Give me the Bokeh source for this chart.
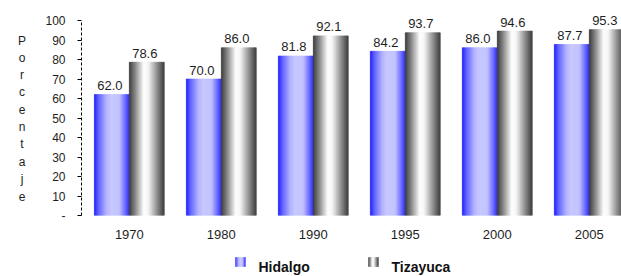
from bokeh.plotting import figure
from bokeh.models import FixedTicker, Range1d, ColumnDataSource
from bokeh.layouts import column, row
from bokeh.embed import file_html
from bokeh.resources import INLINE
from bokeh.core.properties import value

# ---- data ----
years = ["1970", "1980", "1990", "1995", "2000", "2005"]
hidalgo = [62.0, 70.0, 81.8, 84.2, 86.0, 87.7]
tizayuca = [78.6, 86.0, 92.1, 93.7, 94.6, 95.3]
series = ["Hidalgo", "Tizayuca"]
y_ticks = [0, 10, 20, 30, 40, 50, 60, 70, 80, 90, 100]
y_tick_labels = ["-", "10", "20", "30", "40", "50", "60", "70", "80", "90", "100"]
axis_title = "Porcentaje"

FONT = "Liberation Sans"
TXT = "#1e1e1e"
BAR_W = 0.38
N_STRIPES = 36

HID_STOPS = [(0.0, (20, 20, 255)), (0.12, (90, 90, 255)), (0.35, (180, 180, 255)),
             (0.5, (200, 200, 255)), (0.72, (192, 192, 255)), (0.88, (110, 110, 255)),
             (1.0, (40, 40, 255))]
TIZ_STOPS = [(0.0, (50, 50, 50)), (0.15, (120, 120, 120)), (0.42, (255, 255, 255)),
             (0.55, (245, 245, 245)), (0.8, (140, 140, 140)), (1.0, (55, 55, 55))]


def grad(stops, t):
    for (t0, c0), (t1, c1) in zip(stops[:-1], stops[1:]):
        if t0 <= t <= t1:
            f = (t - t0) / (t1 - t0)
            c = [round(a + (b - a) * f) for a, b in zip(c0, c1)]
            return "#%02x%02x%02x" % tuple(c)
    return "#%02x%02x%02x" % stops[-1][1]


def stripe_source(values, offset, stops):
    xs, tops, cols = [], [], []
    for i, v in enumerate(values):
        for k in range(N_STRIPES):
            t = (k + 0.5) / N_STRIPES
            xs.append(i + offset + t * BAR_W)
            tops.append(v)
            cols.append(grad(stops, t))
    return ColumnDataSource(dict(x=xs, top=tops, color=cols))


LEFT_W = 35
FRAME_L = 81

# ---- left strip with stacked axis title ----
tf = figure(width=LEFT_W, height=276, x_range=Range1d(0, LEFT_W), y_range=Range1d(276, 0),
            output_backend="svg", toolbar_location=None, min_border=0,
            x_axis_type=None, y_axis_type=None)
tf.outline_line_color = None
tf.grid.visible = False
tf.text(x=[21.5] * len(axis_title), y=[40 + 17.3 * k for k in range(len(axis_title))],
        text=list(axis_title), text_font=value(FONT), text_font_size="12px", text_color=TXT,
        text_align="center", text_baseline="middle")

# ---- main chart ----
p = figure(width=621 - LEFT_W, height=247, x_range=Range1d(-0.52, 5.35), y_range=Range1d(0, 110.26),
           output_backend="svg", toolbar_location=None,
           min_border_left=FRAME_L - LEFT_W, min_border_right=0, min_border_top=0, min_border_bottom=32)
p.outline_line_color = None
p.grid.visible = False

for vals, off, stops in [(hidalgo, -BAR_W, HID_STOPS), (tizayuca, 0.0, TIZ_STOPS)]:
    src = stripe_source(vals, off, stops)
    p.vbar(x="x", top="top", bottom=0, width=BAR_W / N_STRIPES, source=src,
           fill_color="color", line_color="color", line_width=0.6)

for vals, off in [(hidalgo, -BAR_W / 2), (tizayuca, BAR_W / 2)]:
    p.text(x=[i + off for i in range(len(vals))], y=vals, text=[f"{v:.1f}" for v in vals],
           text_font=value(FONT), text_font_size="13px", text_color=TXT,
           text_align="center", text_baseline="alphabetic", x_offset=-2, y_offset=-9)

p.xaxis.ticker = FixedTicker(ticks=list(range(len(years))))
p.xaxis.major_label_overrides = {i: y for i, y in enumerate(years)}
p.xaxis.axis_line_color = None
p.xaxis.major_tick_line_color = None
p.xaxis.minor_tick_line_color = None
p.xaxis.major_tick_out = 0
p.xaxis.major_tick_in = 0
p.xaxis.major_label_standoff = 14
p.xaxis.major_label_text_font = FONT
p.xaxis.major_label_text_font_size = "13px"
p.xaxis.major_label_text_color = TXT

p.yaxis.ticker = FixedTicker(ticks=y_ticks)
p.yaxis.major_label_overrides = {t: l for t, l in zip(y_ticks, y_tick_labels)}
p.yaxis.bounds = (0, 100)
p.yaxis.axis_line_dash = "3 2"
p.yaxis.axis_line_color = "black"
p.yaxis.major_tick_out = 4
p.yaxis.major_tick_in = 0
p.yaxis.major_tick_line_color = "black"
p.yaxis.minor_tick_line_color = None
p.yaxis.major_label_standoff = 12
p.yaxis.major_label_text_font = FONT
p.yaxis.major_label_text_font_size = "12px"
p.yaxis.major_label_text_color = TXT

# ---- legend strip (its frame is aligned with the main frame by the column) ----
lg = figure(width=621 - LEFT_W, height=29, x_range=Range1d(FRAME_L, 621), y_range=Range1d(29, 0),
            output_backend="svg", toolbar_location=None, min_border=0,
            min_border_left=FRAME_L - LEFT_W,
            x_axis_type=None, y_axis_type=None)
lg.outline_line_color = None
lg.grid.visible = False
icon_x = [235, 368]
text_x = [258, 391]
NI = 10
for ix, stops in zip(icon_x, [HID_STOPS, TIZ_STOPS]):
    lefts = [ix + k * 10 / NI for k in range(NI)]
    rights = [ix + (k + 1) * 10 / NI for k in range(NI)]
    cols = [grad(stops, (k + 0.5) / NI) for k in range(NI)]
    lg.quad(left=lefts, right=rights, top=[10] * NI, bottom=[19] * NI,
            fill_color=cols, line_color=cols, line_width=0.5)
lg.text(x=text_x, y=[19, 19], text=series, text_font=value(FONT), text_font_size="14px",
        text_font_style="bold", text_color="#111111", text_align="left", text_baseline="alphabetic")

layout = row(tf, column(p, lg, spacing=0), spacing=0)
open("out.html", "w").write(file_html(layout, INLINE))
